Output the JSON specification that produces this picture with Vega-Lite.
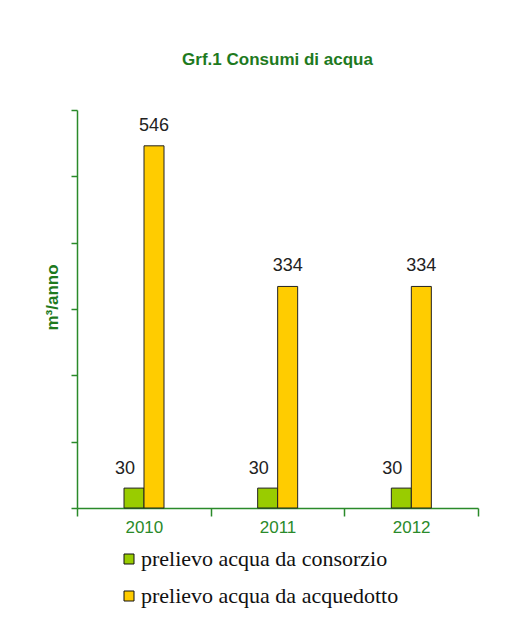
{
  "$schema": "https://vega.github.io/schema/vega-lite/v6.json",
  "width": 401,
  "height": 398,
  "autosize": {"type": "none"},
  "padding": {"left": 77, "top": 110, "right": 50, "bottom": 128},
  "background": "white",
  "title": {
    "text": "Grf.1 Consumi di acqua",
    "font": "Liberation Sans",
    "fontSize": 17,
    "fontWeight": "bold",
    "color": "#1e7a1e",
    "anchor": "middle",
    "offset": 40
  },
  "data": {
    "values": [
      {"anno": "2010", "serie": "prelievo acqua da consorzio", "valore": 30},
      {"anno": "2010", "serie": "prelievo acqua da acquedotto", "valore": 546},
      {"anno": "2011", "serie": "prelievo acqua da consorzio", "valore": 30},
      {"anno": "2011", "serie": "prelievo acqua da acquedotto", "valore": 334},
      {"anno": "2012", "serie": "prelievo acqua da consorzio", "valore": 30},
      {"anno": "2012", "serie": "prelievo acqua da acquedotto", "valore": 334}
    ]
  },
  "encoding": {
    "x": {
      "field": "anno",
      "type": "nominal",
      "scale": {"paddingInner": 0, "paddingOuter": 0},
      "axis": {
        "title": null,
        "labelAngle": 0,
        "labelFont": "Liberation Sans",
        "labelFontSize": 17,
        "labelColor": "#2a8a2a",
        "labelPadding": 3,
        "domainColor": "#2a8a2a",
        "domainWidth": 1.5,
        "tickColor": "#2a8a2a",
        "tickWidth": 1.5,
        "tickSize": 8,
        "tickBand": "extent",
        "grid": false
      }
    },
    "xOffset": {
      "field": "serie",
      "type": "nominal",
      "sort": ["prelievo acqua da consorzio", "prelievo acqua da acquedotto"],
      "scale": {"paddingInner": 0, "paddingOuter": 0, "range": [47, 87]}
    },
    "y": {
      "field": "valore",
      "type": "quantitative",
      "scale": {"domain": [0, 600], "nice": false},
      "axis": {
        "title": "m³/anno",
        "titleFont": "Liberation Sans",
        "titleFontSize": 17,
        "titleFontWeight": "bold",
        "titleColor": "#1e7a1e",
        "titlePadding": 9,
        "titleY": 187,
        "labels": false,
        "values": [0, 100, 200, 300, 400, 500, 600],
        "domainColor": "#2a8a2a",
        "domainWidth": 1.5,
        "tickColor": "#2a8a2a",
        "tickWidth": 1.5,
        "tickSize": 6,
        "grid": false
      }
    }
  },
  "layer": [
    {
      "mark": {"type": "bar", "stroke": "#222222", "strokeWidth": 1},
      "encoding": {
        "color": {
          "field": "serie",
          "type": "nominal",
          "scale": {
            "domain": ["prelievo acqua da consorzio", "prelievo acqua da acquedotto"],
            "range": ["#99cc00", "#ffcc00"]
          },
          "legend": {
            "title": null,
            "orient": "none",
            "legendX": 41,
            "legendY": 438,
            "direction": "vertical",
            "symbolType": "square",
            "symbolSize": 100,
            "symbolStrokeColor": "#111111",
            "symbolStrokeWidth": 1,
            "symbolOpacity": 1,
            "labelFont": "Liberation Serif",
            "labelFontSize": 22,
            "labelColor": "#111111",
            "labelLimit": 450,
            "labelOffset": 1,
            "rowPadding": 15
          }
        }
      }
    },
    {
      "transform": [{"filter": "datum.serie === 'prelievo acqua da acquedotto'"}],
      "mark": {
        "type": "text",
        "baseline": "bottom",
        "dy": -11,
        "font": "Liberation Sans",
        "fontSize": 18,
        "color": "#222222"
      },
      "encoding": {
        "text": {"field": "valore", "type": "quantitative"}
      }
    },
    {
      "transform": [{"filter": "datum.serie === 'prelievo acqua da consorzio'"}],
      "mark": {
        "type": "text",
        "baseline": "bottom",
        "align": "right",
        "dx": 1,
        "dy": -10,
        "font": "Liberation Sans",
        "fontSize": 18,
        "color": "#222222"
      },
      "encoding": {
        "text": {"field": "valore", "type": "quantitative"}
      }
    }
  ],
  "config": {
    "view": {"stroke": null}
  }
}
